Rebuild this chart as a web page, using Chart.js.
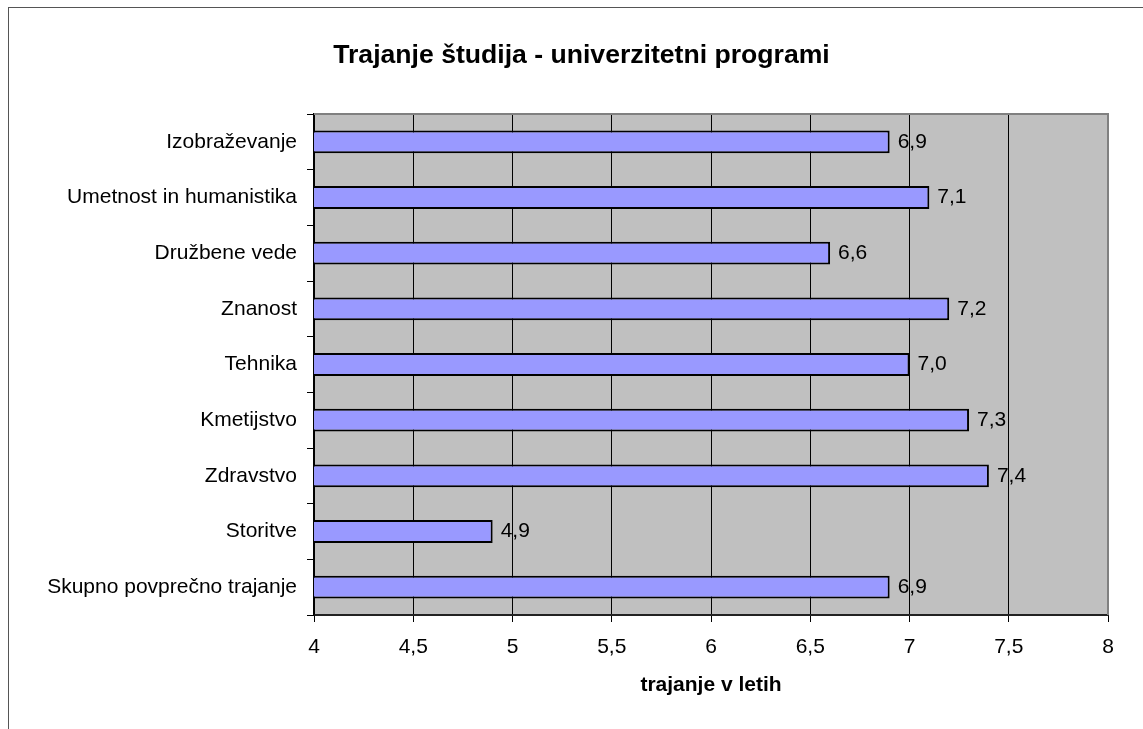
<!DOCTYPE html>
<html>
<head>
<meta charset="utf-8">
<script src="https://cdn.jsdelivr.net/npm/chart.js@4/dist/chart.umd.min.js"></script>
<style>
  html, body { margin: 0; padding: 0; background: #fff; }
  #wrap { position: relative; width: 1143px; height: 729px; overflow: hidden; }
  #frame { position: absolute; left: 8px; top: 7px; width: 2000px; height: 2000px;
           border-left: 1px solid #555; border-top: 1px solid #555; box-sizing: border-box; }
  canvas { position: absolute; left: 0; top: 0; }
</style>
</head>
<body>
<div id="wrap">
  <div id="frame"></div>
  <canvas id="c" width="1143" height="729"></canvas>
</div>
<script>
const categories = [
  "Izobraževanje",
  "Umetnost in humanistika",
  "Družbene vede",
  "Znanost",
  "Tehnika",
  "Kmetijstvo",
  "Zdravstvo",
  "Storitve",
  "Skupno povprečno trajanje"
];
const values = [6.9, 7.1, 6.6, 7.2, 7.0, 7.3, 7.4, 4.9, 6.9];
const xMin = 4, xMax = 8, xStep = 0.5;
const titleText = "Trajanje študija - univerzitetni programi";
const xTitleText = "trajanje v letih";

const FONT = "Arial, 'Liberation Sans', sans-serif";

const plotBg = {
  id: 'plotBg',
  beforeDraw(chart) {
    const {ctx, chartArea: a} = chart;
    ctx.save();
    ctx.fillStyle = '#C0C0C0';
    ctx.fillRect(a.left, a.top, a.right - a.left, a.bottom - a.top);
    ctx.restore();
  },
  afterDraw(chart) {
    const {ctx, chartArea: a} = chart;
    ctx.save();
    ctx.strokeStyle = '#808080';
    ctx.lineWidth = 2;
    ctx.beginPath();
    ctx.moveTo(a.left, a.top);
    ctx.lineTo(a.right, a.top);
    ctx.lineTo(a.right, a.bottom);
    ctx.stroke();
    // chart title
    ctx.font = "bold 26.6px " + FONT;
    ctx.fillStyle = '#000';
    ctx.textAlign = 'center';
    ctx.textBaseline = 'middle';
    ctx.fillText(titleText, 581.5, 56);
    ctx.restore();
  }
};

const valueLabels = {
  id: 'valueLabels',
  afterDatasetsDraw(chart) {
    const {ctx} = chart;
    const meta = chart.getDatasetMeta(0);
    ctx.save();
    ctx.font = "21px " + FONT;
    ctx.fillStyle = '#000';
    ctx.textAlign = 'left';
    ctx.textBaseline = 'middle';
    meta.data.forEach((el, i) => {
      const v = chart.data.datasets[0].data[i];
      ctx.fillText(v.toFixed(1).replace('.', ','), el.x + 8, el.y);
    });
    ctx.restore();
  }
};

new Chart(document.getElementById('c'), {
  type: 'bar',
  data: {
    labels: categories,
    datasets: [{
      data: values,
      backgroundColor: '#9999FF',
      borderColor: '#000',
      borderWidth: 2,
      borderSkipped: false,
      barPercentage: 0.41,
      categoryPercentage: 1
    }]
  },
  options: {
    indexAxis: 'y',
    responsive: false,
    animation: false,
    devicePixelRatio: 1,
    layout: { padding: { left: 30, right: 35, top: 114, bottom: 0 } },
    plugins: {
      legend: { display: false },
      tooltip: { enabled: false },
      title: { display: false }
    },
    scales: {
      x: {
        type: 'linear',
        min: xMin,
        max: xMax,
        afterFit(scale) { scale.height = 114; },
        ticks: {
          stepSize: xStep,
          color: '#000',
          padding: 13,
          font: { family: FONT, size: 21 },
          callback: (v) => String(v).replace('.', ',')
        },
        grid: {
          color: (ctx) => (ctx.tick && ctx.tick.value === xMax) ? 'rgba(0,0,0,0)' : '#000',
          tickColor: '#000',
          lineWidth: 1,
          tickLength: 7,
          drawTicks: true
        },
        border: { display: true, color: '#222', width: 2 },
        title: {
          display: true,
          text: xTitleText,
          color: '#000',
          font: { family: FONT, size: 21, weight: 'bold', lineHeight: 1.2 },
          padding: { top: 0, bottom: 31 }
        }
      },
      y: {
        type: 'category',
        offset: true,
        afterFit(scale) { scale.width = 284; },
        ticks: {
          color: '#000',
          padding: 10,
          font: { family: FONT, size: 21 }
        },
        grid: {
          offset: true,
          drawOnChartArea: false,
          drawTicks: true,
          tickLength: 7,
          color: '#000',
          lineWidth: 1
        },
        border: { display: true, color: '#000', width: 1.5 }
      }
    }
  },
  plugins: [plotBg, valueLabels]
});
</script>
</body>
</html>
